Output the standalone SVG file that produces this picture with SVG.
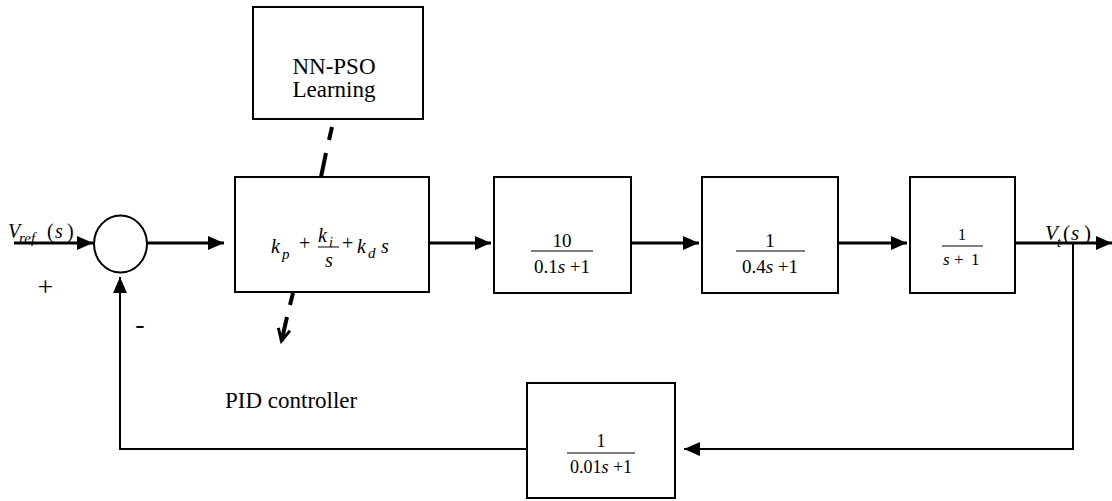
<svg xmlns="http://www.w3.org/2000/svg" width="1112" height="501" viewBox="0 0 1112 501">
<style>
.box{fill:#fff;stroke:#000;stroke-width:2}
.fw{fill:none;stroke:#000;stroke-width:3}
.fb{fill:none;stroke:#000;stroke-width:2}
.dash{fill:none;stroke:#000;stroke-width:4}
text{font-family:"Liberation Serif","Times New Roman",serif;fill:#000}
.it{font-style:italic}
.c{text-anchor:middle}
</style>
<defs>
<marker id="ah" markerUnits="userSpaceOnUse" markerWidth="18" markerHeight="16" refX="16" refY="7" orient="auto">
<path d="M0,0 L16,7 L0,14 Z" fill="#000"/>
</marker>
<marker id="vh" markerUnits="userSpaceOnUse" markerWidth="16" markerHeight="16" refX="13" refY="7" orient="auto">
<path d="M1,1 L13,7 L1,13" fill="none" stroke="#000" stroke-width="3"/>
</marker>
</defs>
<g id="connectors">
<line class="fw" x1="14" y1="243" x2="93" y2="243" marker-end="url(#ah)"/>
<line class="fw" x1="147" y1="243" x2="224" y2="243" marker-end="url(#ah)"/>
<line class="fw" x1="429" y1="243" x2="491" y2="243" marker-end="url(#ah)"/>
<line class="fw" x1="631" y1="243" x2="699" y2="243" marker-end="url(#ah)"/>
<line class="fw" x1="838" y1="243" x2="907" y2="243" marker-end="url(#ah)"/>
<line class="fw" x1="1015" y1="243" x2="1112" y2="243" marker-end="url(#ah)"/>
<polyline class="fb" points="1073,243 1073,449 684,449" marker-end="url(#ah)"/>
<polyline class="fb" points="527,449 120,449 120,277" marker-end="url(#ah)"/>
<line class="dash" x1="332" y1="127" x2="329" y2="140"/>
<line class="dash" x1="326" y1="153" x2="321" y2="177"/>
<line class="dash" x1="293" y1="293" x2="290" y2="305"/>
<line class="dash" x1="287" y1="317" x2="281.5" y2="341" marker-end="url(#vh)"/>
</g>
<g id="sum">
<ellipse cx="120.5" cy="244" rx="26.5" ry="28.5" fill="#fff" stroke="#000" stroke-width="2"/>
</g>
<g id="nnpso">
<rect class="box" x="253" y="7" width="170" height="112"/>
<text class="c" x="334" y="74" font-size="23">NN-PSO</text>
<text class="c" x="334" y="97" font-size="23">Learning</text>
</g>
<g id="pid">
<rect class="box" x="235" y="177" width="194" height="115"/>
<text font-size="20"><tspan class="it" x="271" y="253">k</tspan><tspan class="it" x="282" y="259" font-size="15">p</tspan><tspan x="299" y="250">+</tspan></text>
<text font-size="20"><tspan class="it" x="318" y="242">k</tspan><tspan class="it" x="329" y="247" font-size="14">i</tspan></text>
<line x1="318" y1="247" x2="339" y2="247" stroke="#000" stroke-width="1"/>
<text class="it c" x="329" y="267" font-size="20">s</text>
<text font-size="20"><tspan x="342" y="250">+</tspan><tspan class="it" x="357" y="253">k</tspan><tspan class="it" x="368" y="258" font-size="15">d</tspan><tspan class="it" x="381" y="253">s</tspan></text>
</g>
<g id="plant1">
<rect class="box" x="494" y="177" width="137" height="116"/>
<text class="c" x="562" y="247" font-size="19">10</text>
<line x1="531" y1="251" x2="593" y2="251" stroke="#000" stroke-width="1"/>
<text class="c" x="562" y="273" font-size="19">0.1<tspan class="it">s</tspan> +1</text>
</g>
<g id="plant2">
<rect class="box" x="702" y="177" width="136" height="116"/>
<text class="c" x="770" y="247" font-size="19">1</text>
<line x1="736" y1="251" x2="805" y2="251" stroke="#000" stroke-width="1"/>
<text class="c" x="770" y="273" font-size="19">0.4<tspan class="it">s</tspan> +1</text>
</g>
<g id="plant3">
<rect class="box" x="910" y="177" width="105" height="116"/>
<text class="c" x="962" y="240" font-size="16">1</text>
<line x1="942" y1="246" x2="983" y2="246" stroke="#000" stroke-width="1"/>
<text font-size="17"><tspan class="it" x="943" y="265">s</tspan><tspan x="954" y="265">+</tspan><tspan x="971" y="265">1</tspan></text>
</g>
<g id="sensor">
<rect class="box" x="527" y="383" width="148" height="115"/>
<text class="c" x="601" y="447" font-size="18">1</text>
<line x1="567" y1="453" x2="635" y2="453" stroke="#000" stroke-width="1"/>
<text class="c" x="601" y="473" font-size="18">0.01<tspan class="it">s</tspan> +1</text>
</g>
<g id="labels">
<text font-size="20"><tspan class="it" x="8" y="238">V</tspan><tspan class="it" x="19" y="243" font-size="15">ref</tspan><tspan x="47" y="238">(</tspan><tspan class="it" x="55" y="238">s</tspan><tspan x="67" y="238">)</tspan></text>
<text font-size="21"><tspan class="it" x="1045" y="240">V</tspan><tspan class="it" x="1057" y="247" font-size="14">t</tspan><tspan x="1063" y="240">(</tspan><tspan class="it" x="1071" y="240">s</tspan><tspan x="1084" y="240">)</tspan></text>
<text class="c" x="45.5" y="296" font-size="28">+</text>
<text class="c" x="140" y="333" font-size="28">-</text>
<text x="225" y="408" font-size="23">PID controller</text>
</g>
</svg>
